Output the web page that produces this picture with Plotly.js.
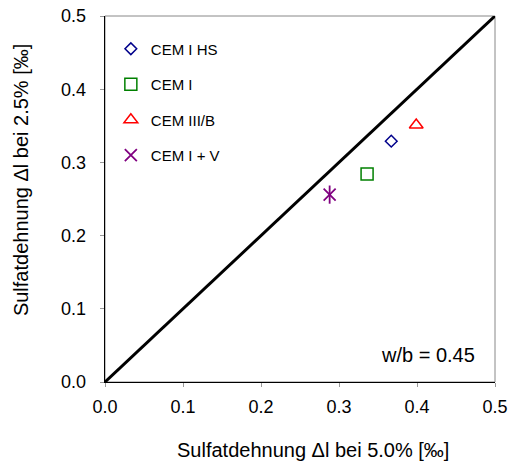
<!DOCTYPE html>
<html>
<head>
<meta charset="utf-8">
<script src="https://cdn.plot.ly/plotly-3.0.1.min.js"></script>
<style>html,body{margin:0;padding:0;background:#fff;}#chart{width:510px;height:470px;}</style>
</head>
<body>
<div id="chart"></div>
<script>
// Data
const seriesNames = ["CEM I HS", "CEM I", "CEM III/B", "CEM I + V"];
const xValues = [0.367, 0.336, 0.399, 0.288];   // Sulfatdehnung bei 5.0%
const yValues = [0.329, 0.284, 0.351, 0.256];   // Sulfatdehnung bei 2.5%
const lineX = [0, 0.5];
const lineY = [0, 0.5];
const tickVals = [0, 0.1, 0.2, 0.3, 0.4, 0.5];
const tickText = ["0.0", "0.1", "0.2", "0.3", "0.4", "0.5"];
const xTitle = "Sulfatdehnung \u0394l bei 5.0% [\u2030]";
const yTitle = "Sulfatdehnung \u0394l bei 2.5% [\u2030]";
const noteText = "w/b = 0.45";

const colors = ["#00008b", "#008000", "#ff0000", "#800080"];
const symbols = ["diamond-open", "square-open", "triangle-up-open", "x-thin-open"];
const sizes = [9, 12, 12, 12];
const widths = [1.5, 1.5, 1.5, 1.8];

const traces = [];
traces.push({
  x: lineX, y: lineY, mode: "lines", type: "scatter",
  line: {color: "#000", width: 3}, showlegend: false, hoverinfo: "skip"
});
for (let i = 0; i < seriesNames.length; i++) {
  traces.push({
    x: [xValues[i]], y: [yValues[i]], mode: "markers", type: "scatter",
    name: seriesNames[i], legendgroup: "g" + i,
    marker: {symbol: symbols[i], size: sizes[i], color: colors[i],
             line: {color: colors[i], width: widths[i]}}
  });
}
// vertical bar of the asterisk marker for CEM I + V
traces.push({
  x: [xValues[3]], y: [yValues[3]], mode: "markers", type: "scatter",
  showlegend: false, legendgroup: "g3",
  marker: {symbol: "line-ns-open", size: 13, color: colors[3],
           line: {color: colors[3], width: 1.8}}
});

const font = "Liberation Sans, Arial, sans-serif";
const axisCommon = {
  range: [0, 0.5], tickvals: tickVals, ticktext: tickText,
  showgrid: false, zeroline: false,
  showline: true, linecolor: "#000", linewidth: 1.3,
  ticks: "outside", ticklen: 4, tickcolor: "#999", tickwidth: 1,
  tickfont: {family: font, size: 18, color: "#000"},
  fixedrange: true
};

const layout = {
  width: 510, height: 470,
  margin: {l: 105, r: 15, t: 16, b: 88},
  paper_bgcolor: "#fff", plot_bgcolor: "#fff",
  font: {family: font, color: "#000"},
  xaxis: Object.assign({}, axisCommon, {ticklabelstandoff: 4}),
  yaxis: Object.assign({}, axisCommon, {ticklabelstandoff: 10}),
  showlegend: true,
  legend: {
    x: 0.015, y: 0.955, xanchor: "left", yanchor: "top",
    bgcolor: "rgba(0,0,0,0)", borderwidth: 0,
    font: {family: font, size: 15, color: "#000"},
    traceorder: "grouped", tracegroupgap: 13, itemwidth: 30
  },
  shapes: [{
    type: "rect", xref: "paper", yref: "paper", x0: 0, x1: 1, y0: 0, y1: 1,
    line: {color: "#888", width: 1}, layer: "below"
  }],
  annotations: [
    {
      text: noteText, xref: "paper", yref: "paper", x: 0.955, y: 0.075,
      xanchor: "right", yanchor: "middle", showarrow: false,
      font: {family: font, size: 20, color: "#000"}
    },
    {
      text: xTitle, xref: "paper", yref: "paper", x: 0.533, y: -0.186,
      xanchor: "center", yanchor: "middle", showarrow: false,
      font: {family: font, size: 20, color: "#000"}
    },
    {
      text: yTitle, xref: "paper", yref: "paper", x: -0.215, y: 0.552,
      xanchor: "center", yanchor: "middle", showarrow: false, textangle: -90,
      font: {family: font, size: 20, color: "#000"}
    }
  ]
};

Plotly.newPlot("chart", traces, layout, {displayModeBar: false, staticPlot: true});
</script>
</body>
</html>
